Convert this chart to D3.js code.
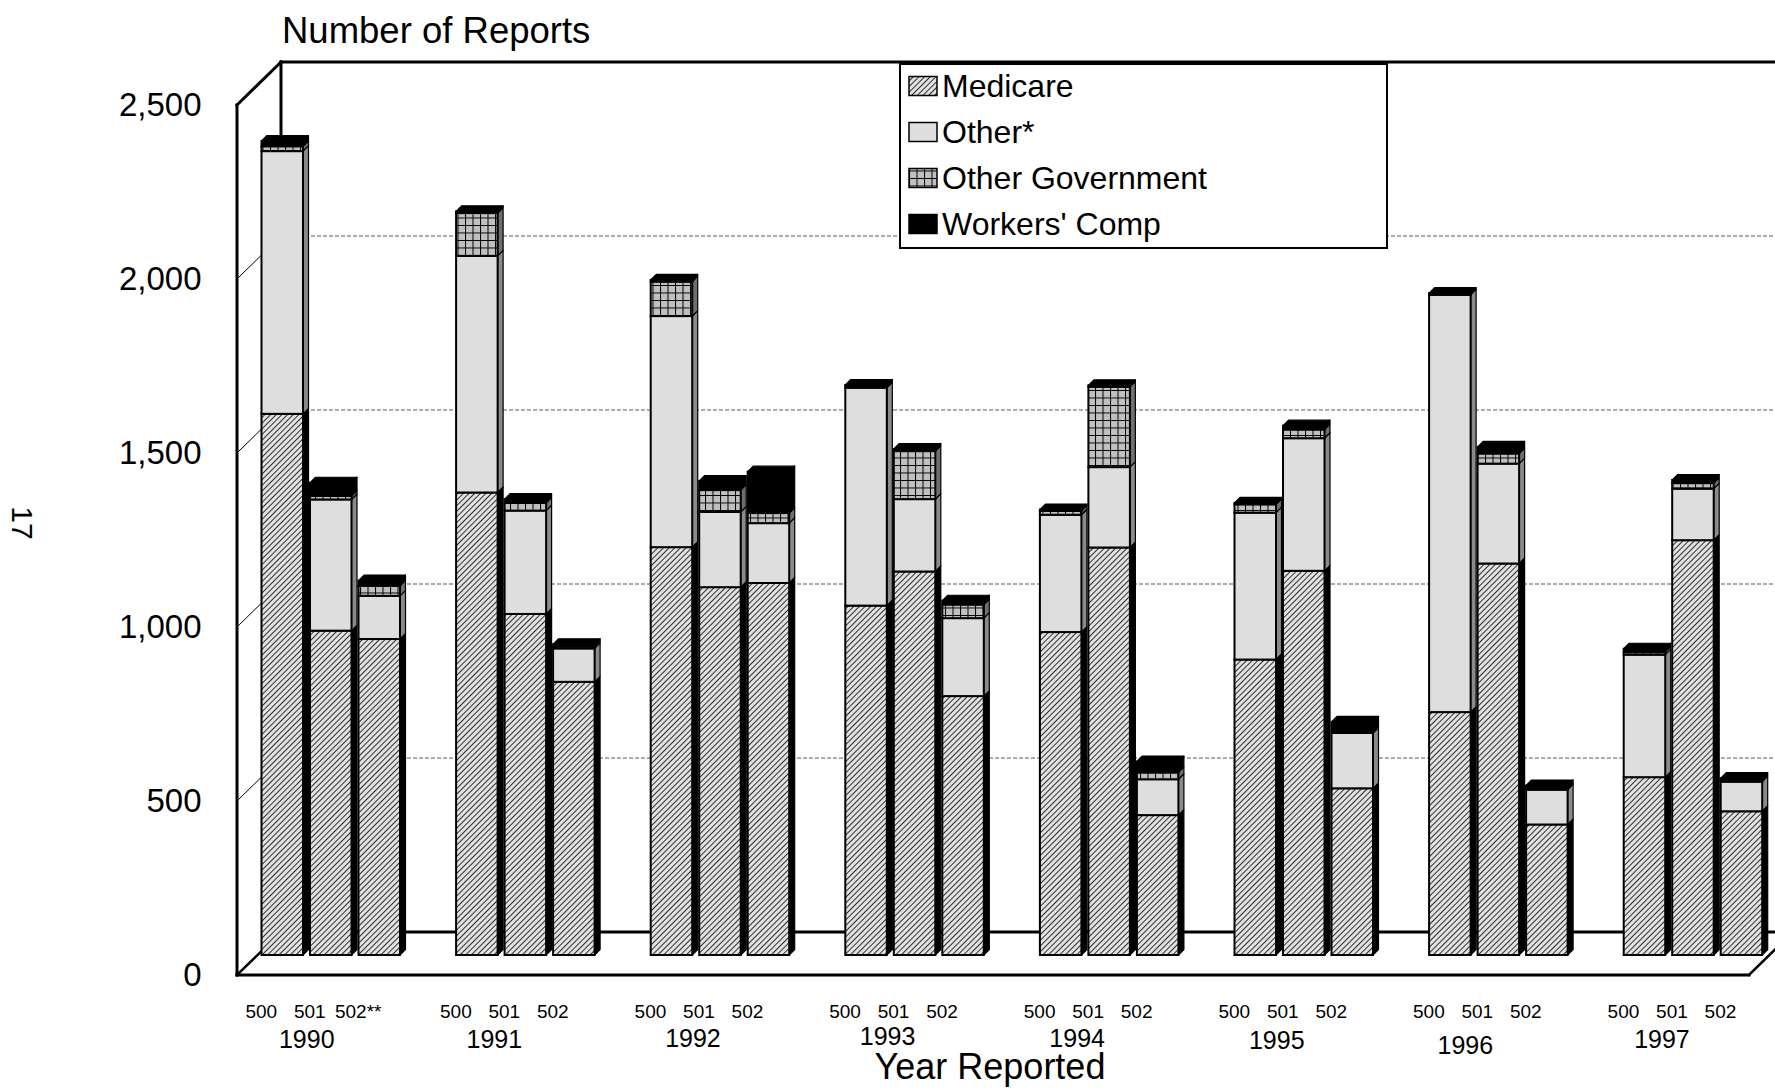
<!DOCTYPE html>
<html>
<head>
<meta charset="utf-8">
<script src="https://cdn.jsdelivr.net/npm/d3@7"></script>
<style>
  html, body { margin: 0; padding: 0; background: #fff; }
  svg { display: block; font-family: "Liberation Sans", Arial, Helvetica, sans-serif; }
</style>
</head>
<body>
<svg id="chart" width="1775" height="1088"></svg>
<script>
// ---- data -------------------------------------------------------------
const years = ["1990", "1991", "1992", "1993", "1994", "1995", "1996", "1997"];
const forms = ["500", "501", "502"];
const formTickLabels = [
  ["500", "501", "502**"], ["500", "501", "502"], ["500", "501", "502"], ["500", "501", "502"],
  ["500", "501", "502"], ["500", "501", "502"], ["500", "501", "502"], ["500", "501", "502"]
];
// reports per year, in form order 500, 501, 502
const medicare = [
  1555, 932, 908,   1329, 980, 785,   1172, 1057, 1069,   1004, 1102, 744,
  928, 1171, 402,   849, 1104, 479,   698, 1125, 375,     511, 1192, 413
];
const other = [
  755, 377, 124,    680, 297, 96,     664, 216, 172,      626, 208, 224,
  337, 231, 103,    422, 381, 159,    1199, 287, 100,     352, 148, 85
];
const otherGov = [
  14, 10, 29,       123, 22, 6,       99, 63, 29,         3, 138, 39,
  11, 231, 20,      24, 25, 0,        0, 29, 0,           8, 16, 0
];
const workersComp = [
  15, 38, 15,       5, 11, 6,         5, 26, 119,         5, 6, 11,
  4, 4, 31,         4, 11, 32,        5, 19, 12,          9, 9, 10
];
const seriesKeys = ["medicare", "other", "otherGov", "workersComp"];
const seriesNames = ["Medicare", "Other*", "Other Government", "Workers' Comp"];
const yTicks = [0, 500, 1000, 1500, 2000, 2500];

// ---- layout -----------------------------------------------------------
const W = 1775, H = 1088;
const frontX = 237, frontBase = 975;      // front edge of the floor
const DX = 44, DY = -43;                  // depth of the box (front -> back wall)
const barBase = 955;                      // bars stand half way into the box
const barDepth = 5.5;                     // little 3-D thickness of every bar
const floorRight = 1749;
const labelShift = -21;                   // category labels sit on the front plane
// small hand nudges of the year captions (x, y)
const yearNudge = [[-3, 0], [-10, 0], [-6, -1], [-6, -3], [-11, -1], [-6, 1], [-12, 6], [-10, 0]];

const h = d3.scaleLinear().domain([0, 2500]).range([0, 870]);
const yFront = d3.scaleLinear().domain([0, 2500]).range([frontBase, frontBase - 870]);
const yBack = v => frontBase + DY - h(v);

const xYear = d3.scaleBand().domain(years).range([261.5, 261.5 + 8 * 194.6]).padding(0);
const xForm = d3.scaleBand().domain(forms).range([0, 138.5]).paddingInner(0.144).paddingOuter(0);

const svg = d3.select("#chart");
const defs = svg.append("defs");

// diagonal hatch for Medicare
const hatch = defs.append("pattern").attr("id", "hatch")
  .attr("patternUnits", "userSpaceOnUse").attr("width", 4).attr("height", 10)
  .attr("patternTransform", "rotate(45)");
hatch.append("rect").attr("width", 4).attr("height", 10).attr("fill", "#e2e2e2");
hatch.append("line").attr("x1", 0.5).attr("y1", 0).attr("x2", 0.5).attr("y2", 10)
  .attr("stroke", "#1a1a1a").attr("stroke-width", 0.9);

// square grid for Other Government
const grid = defs.append("pattern").attr("id", "grid")
  .attr("patternUnits", "userSpaceOnUse").attr("width", 7.5).attr("height", 7.5);
grid.append("rect").attr("width", 7.5).attr("height", 7.5).attr("fill", "#c0c0c0");
grid.append("path").attr("d", "M0,0.5H7.5M0.5,0V7.5").attr("stroke", "#000").attr("stroke-width", 1);

const frontFill = { medicare: "url(#hatch)", other: "#dedede", otherGov: "url(#grid)", workersComp: "#000" };
const sideFill = { medicare: "#000", other: "#8a8a8a", otherGov: "#6e6e6e", workersComp: "#000" };

svg.append("rect").attr("width", W).attr("height", H).attr("fill", "#fff");

// ---- box: back wall, side wall, floor ---------------------------------
const box = svg.append("g");
// dashed gridlines on the back wall
box.selectAll("line.grid").data(yTicks.filter(v => v > 0 && v < 2500)).join("line")
  .attr("x1", frontX + DX).attr("x2", W + 60)
  .attr("y1", v => yBack(v)).attr("y2", v => yBack(v))
  .attr("stroke", "#5a5a5a").attr("stroke-width", 1.2).attr("stroke-dasharray", "4,2");
// matching lines across the side wall
box.selectAll("line.side").data(yTicks.filter(v => v > 0 && v < 2500)).join("line")
  .attr("x1", frontX).attr("x2", frontX + DX)
  .attr("y1", v => yFront(v)).attr("y2", v => yBack(v))
  .attr("stroke", "#000").attr("stroke-width", 1);

const thick = (x1, y1, x2, y2, w) => box.append("line")
  .attr("x1", x1).attr("y1", y1).attr("x2", x2).attr("y2", y2)
  .attr("stroke", "#000").attr("stroke-width", w || 3).attr("stroke-linecap", "square");

thick(frontX + DX, yBack(2500), W + 60, yBack(2500));          // back wall top
thick(frontX + DX, yBack(2500), frontX + DX, yBack(0));        // back wall left edge
thick(frontX + DX, yBack(0), W + 60, yBack(0));                // back wall foot
thick(frontX, yFront(2500), frontX + DX, yBack(2500));         // side wall top
thick(frontX, yFront(0), frontX + DX, yBack(0), 2.5);          // side wall foot
thick(frontX, yFront(2500), frontX, yFront(0));                // value axis
thick(frontX, yFront(0), floorRight, yFront(0));               // floor front edge
thick(floorRight, yFront(0), floorRight + DX, yBack(0), 2.5);  // floor right edge

// ---- stacked bars ------------------------------------------------------
const rows = [];
years.forEach((yr, i) => forms.forEach((f, j) => {
  const k = i * 3 + j;
  rows.push({ year: yr, form: f, medicare: medicare[k], other: other[k], otherGov: otherGov[k], workersComp: workersComp[k] });
}));
const stacked = d3.stack().keys(seriesKeys)(rows);

const bw = xForm.bandwidth();
const d = barDepth;
const barsG = svg.append("g");
rows.forEach((row, r) => {
  const x = xYear(row.year) + xForm(row.form);
  const segs = stacked.map(s => ({ key: s.key, v0: s[r][0], v1: s[r][1] })).filter(s => s.v1 > s.v0);
  const g = barsG.append("g");
  // right-hand side faces
  g.selectAll("polygon.side").data(segs).join("polygon")
    .attr("points", s => {
      const yt = barBase - h(s.v1), yb = barBase - h(s.v0);
      return [[x + bw, yt], [x + bw + d, yt - d], [x + bw + d, yb - d], [x + bw, yb]].join(" ");
    })
    .attr("fill", s => sideFill[s.key]).attr("stroke", "#000").attr("stroke-width", 1.2)
    .attr("stroke-linejoin", "round");
  // top face
  const top = segs[segs.length - 1];
  const yt = barBase - h(top.v1);
  g.append("polygon")
    .attr("points", [[x, yt], [x + d, yt - d], [x + bw + d, yt - d], [x + bw, yt]].join(" "))
    .attr("fill", sideFill[top.key] === "#000" ? "#000" : "#9a9a9a")
    .attr("stroke", "#000").attr("stroke-width", 1.2).attr("stroke-linejoin", "round");
  // front faces
  g.selectAll("rect.front").data(segs).join("rect")
    .attr("x", x).attr("width", bw)
    .attr("y", s => barBase - h(s.v1))
    .attr("height", s => h(s.v1) - h(s.v0))
    .attr("fill", s => frontFill[s.key])
    .attr("stroke", "#000").attr("stroke-width", 2);
});

// ---- value axis labels ------------------------------------------------
const axis = svg.append("g").attr("transform", `translate(${frontX},0)`)
  .call(d3.axisLeft(yFront).tickValues(yTicks).tickSize(0).tickPadding(35.5).tickFormat(d3.format(",")));
axis.select(".domain").remove();
axis.selectAll("text").attr("font-size", 33).attr("fill", "#000")
  .attr("font-family", "'Liberation Sans', Arial, sans-serif");

// ---- category labels --------------------------------------------------
const cats = svg.append("g").attr("font-size", 19).attr("text-anchor", "middle").attr("fill", "#000");
years.forEach((yr, i) => forms.forEach((f, j) => {
  cats.append("text")
    .attr("x", xYear(yr) + xForm(f) + bw / 2 + labelShift)
    .attr("y", 1011).attr("dy", "0.35em")
    .text(formTickLabels[i][j]);
}));
svg.append("g").attr("font-size", 25).attr("text-anchor", "middle")
  .selectAll("text").data(years).join("text")
  .attr("x", (yr, i) => xYear(yr) + 138.5 / 2 + labelShift + yearNudge[i][0])
  .attr("y", (yr, i) => 1039 + yearNudge[i][1]).attr("dy", "0.35em")
  .text(yr => yr);

svg.append("text").attr("x", 990).attr("y", 1066).attr("dy", "0.35em")
  .attr("text-anchor", "middle").attr("font-size", 36).text("Year Reported");
svg.append("text").attr("x", 282).attr("y", 30.5).attr("dy", "0.35em")
  .attr("font-size", 36.5).text("Number of Reports");

// page number in the margin
svg.append("text").attr("transform", "translate(22.6,523) rotate(90)")
  .attr("text-anchor", "middle").attr("dy", "0.35em").attr("font-size", 30).text("17");

// ---- legend -----------------------------------------------------------
const lg = svg.append("g");
lg.append("rect").attr("x", 900).attr("y", 64).attr("width", 487).attr("height", 184)
  .attr("fill", "#fff").attr("stroke", "#000").attr("stroke-width", 2);
const items = lg.selectAll("g.item").data(seriesKeys).join("g")
  .attr("transform", (k, i) => `translate(909,${86 + i * 46})`);
items.append("rect").attr("x", 0).attr("y", -9.5).attr("width", 28).attr("height", 19)
  .attr("fill", k => frontFill[k]).attr("stroke", "#000").attr("stroke-width", 1.5);
items.append("text").attr("x", 33).attr("dy", "0.35em").attr("font-size", 32)
  .text((k, i) => seriesNames[i]);
</script>
</body>
</html>
